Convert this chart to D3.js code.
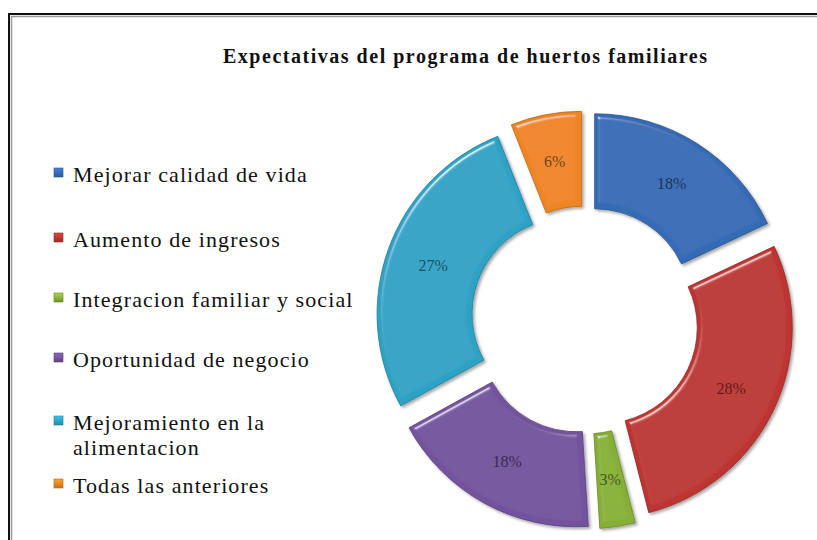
<!DOCTYPE html>
<html lang="es">
<head>
    <meta charset="UTF-8">
    <title>Expectativas del programa de huertos familiares</title>
    <script src="https://d3js.org/d3.v7.min.js"></script>
    <style>
        body { margin: 0; background: white; }
        svg { display: block; background-color: white; }
        .legend text { font-family: "Liberation Serif", "Times New Roman", serif; font-size: 22px; letter-spacing: 1.1px; fill: #111; }
        .pct { font-family: "Liberation Serif", "Times New Roman", serif; font-size: 16px; }
    </style>
</head>
<body>
    <script>
        // chart data
        const categories = ['Mejorar calidad de vida', 'Aumento de ingresos', 'Integracion familiar y social',
                            'Oportunidad de negocio', 'Mejoramiento en la alimentacion', 'Todas las anteriores'];
        const legendLines = [['Mejorar calidad de vida'], ['Aumento de ingresos'], ['Integracion familiar y social'],
                             ['Oportunidad de negocio'], ['Mejoramiento en la', 'alimentacion'], ['Todas las anteriores']];
        const values = [18, 28, 3, 18, 27, 6];
        const colors = ['#346bb4', '#bc3531', '#86b035', '#73539e', '#2ea2c4', '#ee8521'];
        const title = 'Expectativas del programa de huertos familiares';

        const width = 817;
        const height = 540;
        const cx = 585, cy = 320;
        const outerR = 191, innerR = 96;
        const explode = 18;

        const svg = d3.select('body')
                      .append('svg')
                      .attr('width', width)
                      .attr('height', height);

        const defs = svg.append('defs');

        // bevel-ish lighting for the slices
        const bevel = defs.append('filter')
            .attr('id', 'bevel')
            .attr('x', '-10%').attr('y', '-10%')
            .attr('width', '120%').attr('height', '120%');
        bevel.append('feGaussianBlur').attr('in', 'SourceAlpha').attr('stdDeviation', 2.5).attr('result', 'blur');
        bevel.append('feSpecularLighting')
            .attr('in', 'blur').attr('surfaceScale', 4).attr('specularConstant', 0.6)
            .attr('specularExponent', 60).attr('lighting-color', '#ffffff').attr('result', 'spec')
            .append('feDistantLight').attr('azimuth', 235).attr('elevation', 50);
        bevel.append('feComposite').attr('in', 'spec').attr('in2', 'SourceAlpha').attr('operator', 'in').attr('result', 'specIn');
        bevel.append('feComposite').attr('in', 'SourceGraphic').attr('in2', 'specIn')
            .attr('operator', 'arithmetic').attr('k1', 0).attr('k2', 1).attr('k3', 1).attr('k4', 0).attr('result', 'lit');
        bevel.append('feOffset').attr('in', 'SourceAlpha').attr('dx', 1.5).attr('dy', 2).attr('result', 'off');
        bevel.append('feGaussianBlur').attr('in', 'off').attr('stdDeviation', 1.5).attr('result', 'shadowBlur');
        bevel.append('feComponentTransfer').attr('in', 'shadowBlur').attr('result', 'shadow')
            .append('feFuncA').attr('type', 'linear').attr('slope', 0.35);
        const merge = bevel.append('feMerge');
        merge.append('feMergeNode').attr('in', 'shadow');
        merge.append('feMergeNode').attr('in', 'lit');

        // frame (runs off the right and bottom edges)
        svg.append('rect')
            .attr('x', 9).attr('y', 14)
            .attr('width', width + 20).attr('height', height + 20)
            .attr('fill', 'none').attr('stroke', '#111').attr('stroke-width', 2);
        svg.append('rect')
            .attr('x', 11.5).attr('y', 16.5)
            .attr('width', width + 20).attr('height', height + 20)
            .attr('fill', 'none').attr('stroke', '#9a9a9a').attr('stroke-width', 1.5);

        // title
        svg.append('text')
            .attr('x', 465)
            .attr('y', 63)
            .attr('text-anchor', 'middle')
            .attr('textLength', 484)
            .attr('lengthAdjust', 'spacing')
            .style('font-family', '"Liberation Serif", "Times New Roman", serif')
            .style('font-size', '20px')
            .style('font-weight', 'bold')
            .attr('fill', '#111')
            .text(title);

        // doughnut
        const pie = d3.pie().sort(null).value(d => d)(values);
        const arc = d3.arc().innerRadius(innerR).outerRadius(outerR);
        const labelArc = d3.arc().innerRadius((innerR + outerR) / 2).outerRadius((innerR + outerR) / 2);

        const slices = svg.append('g')
            .attr('transform', `translate(${cx},${cy})`)
            .selectAll('g')
            .data(pie)
            .join('g')
            .attr('transform', d => {
                const a = (d.startAngle + d.endAngle) / 2;
                return `translate(${explode * Math.sin(a)},${-explode * Math.cos(a)})`;
            });

        slices.append('path')
            .attr('d', arc)
            .attr('fill', (d, i) => colors[i])
            .attr('stroke', (d, i) => d3.color(colors[i]).darker(0.7))
            .attr('stroke-width', 0.8)
            .attr('filter', 'url(#bevel)');

        slices.append('text')
            .attr('class', 'pct')
            .attr('transform', d => `translate(${labelArc.centroid(d)})`)
            .attr('text-anchor', 'middle')
            .attr('dy', '0.35em')
            .attr('fill', (d, i) => d3.color(colors[i]).darker(1.9))
            .text(d => d.data + '%');

        // legend
        const legendY = [182, 247, 307, 367, 430, 493];
        const legend = svg.append('g').attr('class', 'legend');
        const items = legend.selectAll('g')
            .data(legendLines)
            .join('g')
            .attr('transform', (d, i) => `translate(54,${legendY[i]})`);

        const keyGrad = defs.selectAll('linearGradient')
            .data(colors)
            .join('linearGradient')
            .attr('id', (d, i) => 'key' + i)
            .attr('x1', 0).attr('y1', 0).attr('x2', 0).attr('y2', 1);
        keyGrad.append('stop').attr('offset', '0%').attr('stop-color', d => d3.color(d).brighter(0.6));
        keyGrad.append('stop').attr('offset', '100%').attr('stop-color', d => d3.color(d).darker(0.5));

        items.append('rect')
            .attr('x', 0).attr('y', -14)
            .attr('width', 9).attr('height', 9)
            .attr('fill', (d, i) => `url(#key${i})`)
            .attr('stroke', (d, i) => d3.color(colors[i]).darker(0.8))
            .attr('stroke-width', 0.6);

        items.append('text')
            .attr('x', 19)
            .selectAll('tspan')
            .data(d => d)
            .join('tspan')
            .attr('x', 19)
            .attr('dy', (d, i) => i === 0 ? 0 : 25)
            .text(d => d);
    </script>
</body>
</html>
